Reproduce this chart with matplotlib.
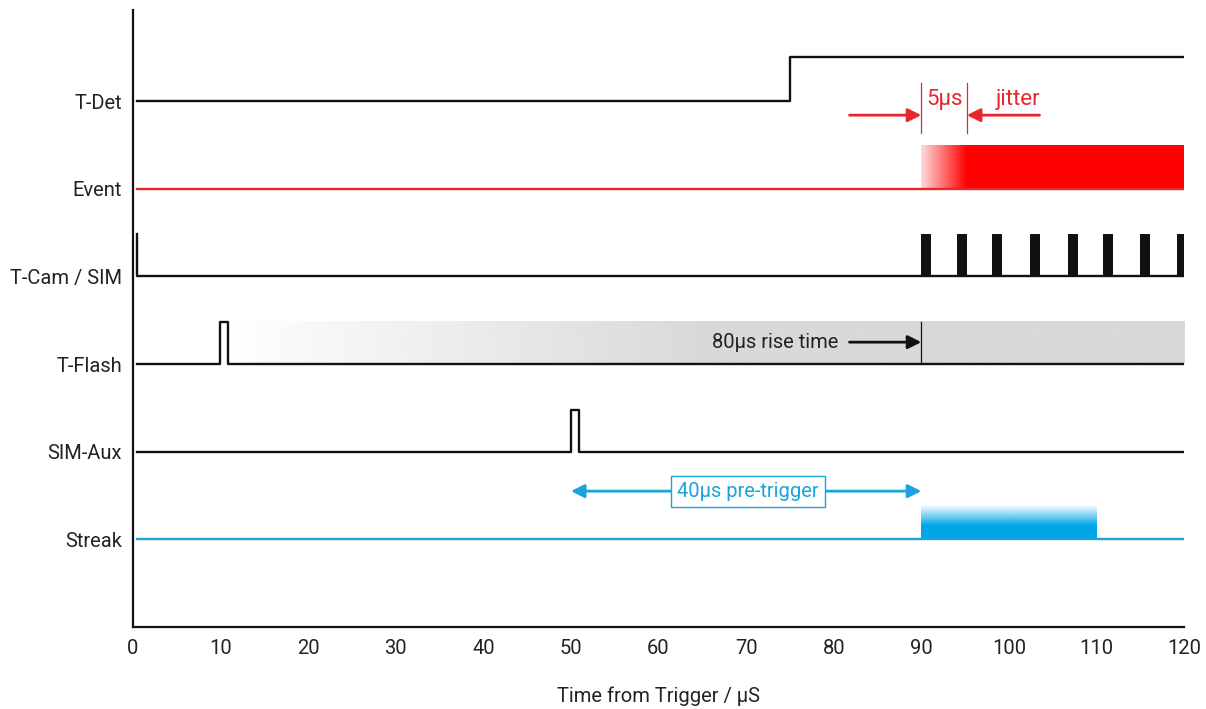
import numpy as np
import matplotlib.pyplot as plt
from matplotlib.colors import to_rgb

plt.rcParams['font.family'] = ['Roboto', 'DejaVu Sans']

# timing data (microseconds)
signals = ["T-Det", "Event", "T-Cam / SIM", "T-Flash", "SIM-Aux", "Streak"]
rows = [6, 5, 4, 3, 2, 1]
t_start, t_end = 0.5, 120
det_step = 75
event_start, jitter_end = 90, 95.2
cam_pulses = [90.0, 94.1, 98.1, 102.4, 106.8, 110.8, 115.0, 119.2]
cam_width = 1.1
flash_pulse = [9.9, 10.8]
rise_end = 90
aux_pulse = [50.0, 50.9]
streak_window = [90, 110]
pretrigger = [50, 90]
xticks = list(range(0, 121, 10))

RED = "#e8262d"
BLUE = "#1aa3dc"
BLACK = "#111111"
LW = 1.7
FS = 14.5


def hgrad(ax, x0, x1, y0, y1, color, a0, a1, ramp_end, z=1):
    # horizontal alpha ramp from x0 to ramp_end, then solid
    n = 400
    xs = np.linspace(x0, x1, n)
    a = np.clip(a0 + (a1 - a0) * (xs - x0) / (ramp_end - x0), min(a0, a1), max(a0, a1))
    img = np.zeros((1, n, 4))
    img[..., :3] = to_rgb(color)
    img[0, :, 3] = a
    ax.imshow(img, extent=[x0, x1, y0, y1], aspect="auto", zorder=z, interpolation="bilinear")


fig = plt.figure(figsize=(12.06, 7.09), dpi=100)
ax = fig.add_axes([0.1103, 0.1157, 0.8715, 0.8702])

# T-Det
r = rows[0]
ax.plot([t_start, det_step, det_step, t_end], [r, r, r + 0.5, r + 0.5], color=BLACK, lw=LW, zorder=3)

# Event
r = rows[1]
ax.plot([t_start, t_end], [r, r], color=RED, lw=LW, zorder=3)
hgrad(ax, event_start, t_end + 0.2, r, r + 0.5, "#ff0000", 0.15, 1.0, jitter_end)
ax.plot([event_start] * 2, [5.64, 6.21], color=RED, lw=0.9)
ax.plot([jitter_end] * 2, [5.64, 6.21], color=RED, lw=0.9)
ax.annotate("", xy=(event_start, 5.84), xytext=(81.8, 5.84),
            arrowprops=dict(arrowstyle="-|>", color=RED, lw=2, mutation_scale=20, shrinkA=0, shrinkB=0))
ax.annotate("", xy=(jitter_end, 5.84), xytext=(103.5, 5.84),
            arrowprops=dict(arrowstyle="-|>", color=RED, lw=2, mutation_scale=20, shrinkA=0, shrinkB=0))
ax.text((event_start + jitter_end) / 2, 6.02, "5μs", color=RED, fontsize=16, ha="center", va="center")
ax.text(101.0, 6.02, "jitter", color=RED, fontsize=16, ha="center", va="center")

# T-Cam / SIM
r = rows[2]
ax.plot([t_start, t_start, t_end], [r + 0.48, r, r], color=BLACK, lw=LW, zorder=3)
ax.bar(cam_pulses, 0.48, width=cam_width, bottom=r, align="edge", color=BLACK, zorder=3)

# T-Flash
r = rows[3]
ax.plot([t_start, flash_pulse[0], flash_pulse[0], flash_pulse[1], flash_pulse[1], t_end],
        [r, r, r + 0.48, r + 0.48, r, r], color=BLACK, lw=LW, zorder=3)
hgrad(ax, flash_pulse[1], t_end, r, r + 0.48, "#d9d9d9", 0.0, 1.0, 65)
ax.plot([rise_end] * 2, [r, r + 0.48], color=BLACK, lw=0.9, zorder=3)
ax.annotate("", xy=(rise_end, r + 0.25), xytext=(81.8, r + 0.25),
            arrowprops=dict(arrowstyle="-|>", color=BLACK, lw=2, mutation_scale=20, shrinkA=0, shrinkB=0),
            zorder=4)
ax.text(80.5, r + 0.25, "80μs rise time", color="#222222", fontsize=FS, ha="right", va="center", zorder=4)

# SIM-Aux
r = rows[4]
ax.plot([t_start, aux_pulse[0], aux_pulse[0], aux_pulse[1], aux_pulse[1], t_end],
        [r, r, r + 0.48, r + 0.48, r, r], color=BLACK, lw=LW, zorder=3)

# Streak
r = rows[5]
ax.plot([t_start, t_end], [r, r], color=BLUE, lw=LW, zorder=3)
n = 200
img = np.zeros((n, 1, 4))
img[..., :3] = to_rgb("#00a6e6")
img[:, 0, 3] = np.clip(np.linspace(0, 1, n) / 0.6, 0.05, 1)
ax.imshow(img, extent=[streak_window[0], streak_window[1], r, r + 0.38], aspect="auto",
          zorder=1, interpolation="bilinear", origin="upper")
ax.annotate("", xy=(pretrigger[0], 1.55), xytext=(pretrigger[1], 1.55),
            arrowprops=dict(arrowstyle="<|-|>", color=BLUE, lw=2, mutation_scale=20, shrinkA=0, shrinkB=0))
ax.text(70.2, 1.55, "40μs pre-trigger", color=BLUE, fontsize=FS, ha="center", va="center",
        bbox=dict(boxstyle="square,pad=0.3", facecolor="white", edgecolor=BLUE, lw=1))

# axes styling
ax.set_xlim(0, 120)
ax.set_ylim(0, 7.04)
ax.set_xticks(xticks)
ax.set_yticks(rows)
ax.set_yticklabels(signals)
ax.tick_params(length=0, labelsize=FS, colors="#222222", pad=8)
ax.tick_params(axis="x", pad=9)
for s in ["top", "right"]:
    ax.spines[s].set_visible(False)
for s in ["left", "bottom"]:
    ax.spines[s].set_linewidth(1.6)
    ax.spines[s].set_color(BLACK)
ax.set_xlabel("Time from Trigger / μS", fontsize=FS, color="#222222", labelpad=20)

fig.savefig("out.png", dpi=100)
